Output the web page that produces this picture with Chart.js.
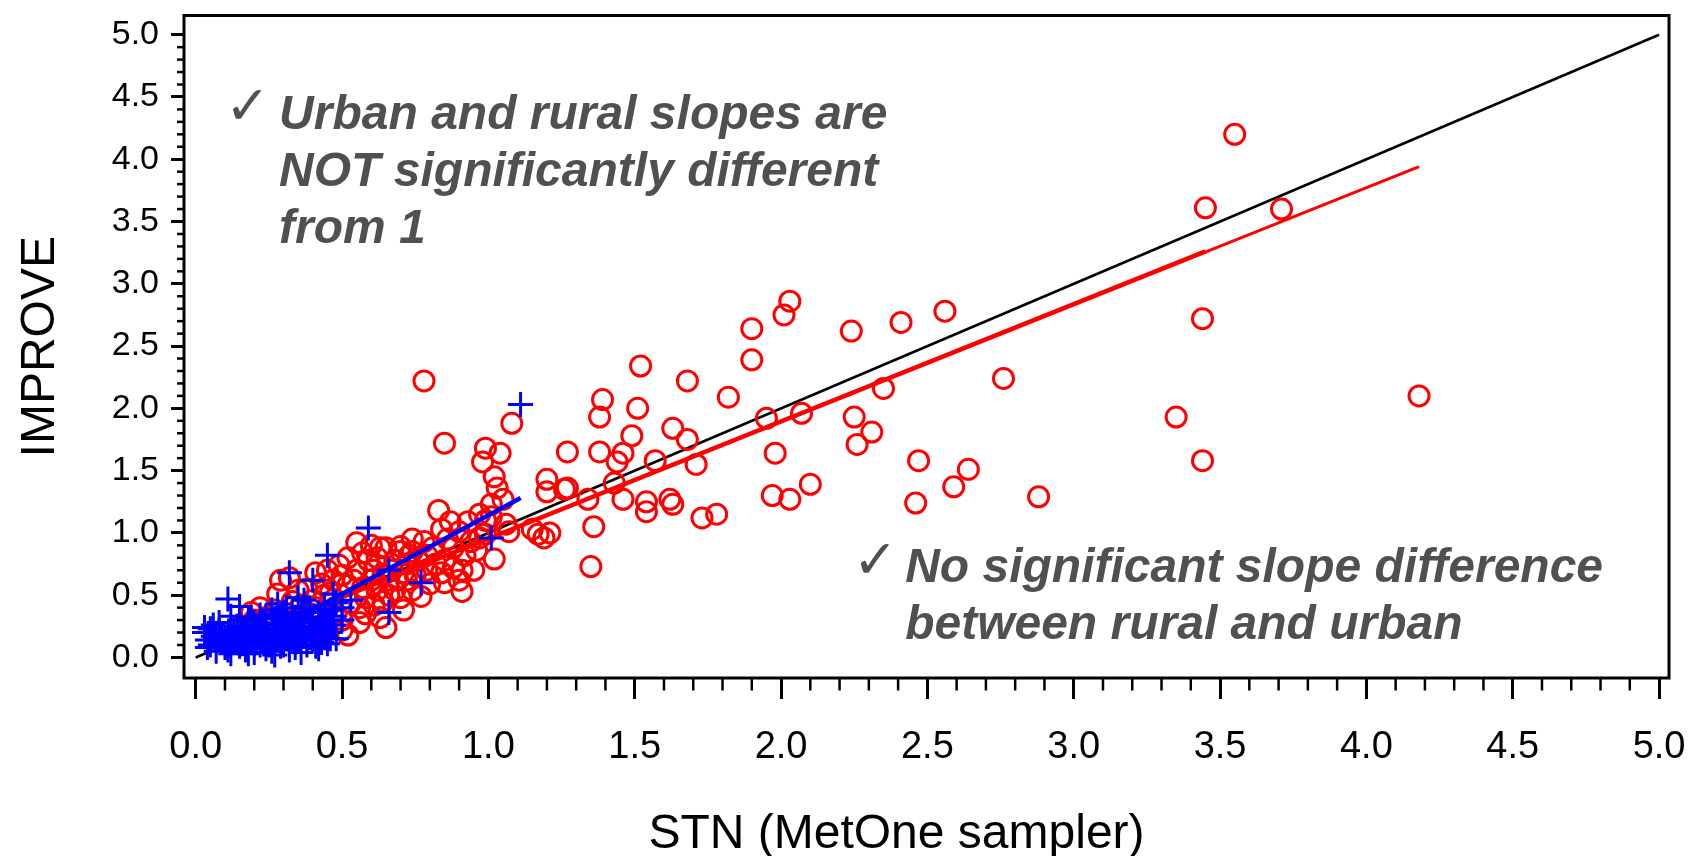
<!DOCTYPE html>
<html>
<head>
<meta charset="utf-8">
<title>IMPROVE vs STN</title>
<script src="https://cdn.jsdelivr.net/npm/chart.js@4.4.0/dist/chart.umd.min.js"></script>
<style>
  html, body { margin: 0; padding: 0; background: #ffffff; }
  #wrap { width: 1694px; height: 856px; }
</style>
</head>
<body>
<div id="wrap"><canvas id="chart" width="1694" height="856"></canvas></div>
<script>
// ---- data ----------------------------------------------------------------
const urbanSTN = [
  3.55, 3.45, 3.71, 3.44, 3.35, 3.44, 4.18, 2.76, 2.88, 2.56,
  2.41, 2.24, 2.03, 2.01, 1.90, 1.90, 1.68, 1.52, 1.39, 1.38,
  1.51, 1.82, 1.95, 2.07, 2.25, 2.35, 2.26, 2.31, 2.47, 2.64,
  2.59, 2.46, 1.98, 2.10, 1.97, 2.03, 1.49, 1.63, 1.68, 1.71,
  1.73, 1.78, 1.62, 1.63, 1.54, 1.54, 1.46, 1.43, 1.44, 1.46,
  1.57, 1.38, 1.27, 1.34, 1.26, 1.36, 1.35, 1.20, 1.20, 1.27,
  1.15, 1.19, 1.17, 1.21, 0.78, 0.85, 1.08, 0.99, 1.04, 0.98,
  1.02, 1.03, 1.05, 1.01, 0.83, 0.87, 1.01, 1.07, 1.02, 0.90,
  0.94, 0.88, 0.91, 0.91, 0.95, 0.78, 0.70, 0.65, 0.80, 0.77,
  0.71, 0.65, 0.97, 0.97, 0.93, 0.84, 0.74, 0.79, 0.90, 1.06,
  0.74, 0.70, 0.63, 0.57, 0.52, 0.55, 0.61, 0.72, 0.68, 0.62,
  0.58, 0.63, 0.74, 0.48, 0.50, 0.43, 0.35, 0.29, 0.28, 0.22,
  0.19, 0.40, 0.32, 0.45, 0.66, 0.58, 0.52, 0.39, 0.30, 0.25,
  0.42, 0.60, 0.68, 0.53, 0.46, 0.36, 0.72, 0.64, 0.56, 0.85,
  0.20, 0.24, 0.30, 0.36, 0.44, 0.50, 0.52,
  0.33, 0.38, 0.41, 0.47, 0.49, 0.54, 0.57, 0.59, 0.62, 0.64,
  0.67, 0.69, 0.71, 0.73, 0.76, 0.79, 0.82, 0.84, 0.86, 0.88,
  0.92, 0.96, 0.99, 0.99, 0.46, 0.41, 0.34, 0.27, 0.23, 0.56,
  0.61, 0.66, 0.70, 0.75, 0.81, 0.85, 0.60, 0.55, 0.50, 0.44
];
const urbanIMPROVE = [
  4.20, 3.61, 3.60, 2.72, 1.93, 1.58, 2.10, 2.24, 1.29, 2.78,
  2.69, 2.62, 2.86, 2.75, 2.64, 2.39, 2.22, 2.34, 2.07, 1.93,
  2.00, 2.09, 1.92, 1.96, 1.93, 2.16, 1.71, 1.81, 1.58, 1.51,
  1.37, 1.24, 1.64, 1.39, 1.30, 1.27, 1.78, 1.84, 1.75, 1.55,
  1.12, 1.15, 1.27, 1.23, 1.25, 1.17, 1.27, 1.40, 1.57, 1.64,
  1.58, 1.65, 1.65, 1.27, 1.35, 1.05, 0.73, 1.43, 1.33, 1.36,
  1.03, 0.96, 0.99, 1.00, 2.22, 1.72, 1.88, 1.68, 1.64, 1.57,
  1.45, 1.36, 1.27, 1.23, 1.18, 1.09, 1.13, 1.01, 0.79, 1.01,
  0.93, 0.88, 0.70, 0.53, 0.70, 0.93, 0.85, 0.88, 0.59, 0.49,
  0.38, 0.24, 0.96, 1.15, 1.09, 1.03, 0.85, 0.70, 0.62, 1.07,
  0.95, 0.89, 0.88, 0.84, 0.80, 0.70, 0.70, 0.75, 0.54, 0.54,
  0.35, 0.32, 0.54, 0.35, 0.22, 0.59, 0.54, 0.62, 0.51, 0.40,
  0.36, 0.46, 0.64, 0.70, 0.62, 0.48, 0.58, 0.35, 0.30, 0.25,
  0.25, 0.62, 0.78, 0.44, 0.43, 0.42, 0.62, 0.45, 0.28, 0.78,
  0.30, 0.32, 0.28, 0.30, 0.22, 0.30, 0.18,
  0.45, 0.55, 0.68, 0.62, 0.74, 0.62, 0.56, 0.78, 0.80, 0.66,
  0.70, 0.62, 0.68, 0.82, 0.78, 0.82, 0.75, 0.68, 0.95, 0.72,
  0.82, 0.86, 0.99, 1.10, 0.52, 0.40, 0.33, 0.38, 0.28, 0.40,
  0.42, 0.50, 0.48, 0.66, 0.88, 0.60, 0.90, 0.92, 0.66, 0.50
];

const ruralSTN = [
  1.11, 1.01, 0.59, 0.45, 0.32, 0.40, 0.11, 0.15, 0.28, 0.35,
  0.47, 0.53, 0.66, 0.66, 0.48, 0.03, 0.77, 0.50,
  0.03, 0.04, 0.05, 0.06, 0.07, 0.08, 0.09, 0.10, 0.11, 0.12,
  0.13, 0.14, 0.15, 0.16, 0.17, 0.18, 0.19, 0.20, 0.21, 0.22,
  0.23, 0.24, 0.25, 0.26, 0.27, 0.28, 0.29, 0.30, 0.31, 0.32,
  0.33, 0.34, 0.35, 0.36, 0.37, 0.38, 0.39, 0.40, 0.41, 0.42,
  0.43, 0.44, 0.45, 0.46, 0.47,
  0.05, 0.08, 0.12, 0.16, 0.19, 0.22, 0.25, 0.28, 0.31, 0.34,
  0.37, 0.40, 0.43, 0.20, 0.27, 0.14, 0.10, 0.33, 0.38, 0.42,
  0.46, 0.30, 0.24, 0.18,
  0.04, 0.06, 0.09, 0.11, 0.13, 0.15, 0.17, 0.18, 0.20, 0.21,
  0.23, 0.24, 0.26, 0.27, 0.29, 0.30, 0.32, 0.33, 0.35, 0.36,
  0.38, 0.39, 0.41, 0.42, 0.44, 0.45, 0.46, 0.47, 0.44, 0.40,
  0.36, 0.48, 0.50, 0.29, 0.15, 0.08, 0.12,
  0.22, 0.26, 0.34, 0.39, 0.43, 0.31, 0.19, 0.37
];
const ruralIMPROVE = [
  2.03, 0.96, 1.04, 0.82, 0.68, 0.62, 0.47, 0.41, 0.43, 0.48,
  0.51, 0.46, 0.70, 0.36, 0.15, 0.24, 0.60, 0.40,
  0.20, 0.14, 0.10, 0.17, 0.05, 0.22, 0.12, 0.08, 0.18, 0.03,
  0.14, 0.25, 0.09, 0.19, 0.06, 0.13, 0.22, 0.04, 0.16, 0.10,
  0.27, 0.07, 0.19, 0.13, 0.02, 0.23, 0.09, 0.16, 0.29, 0.06,
  0.20, 0.12, 0.25, 0.04, 0.17, 0.10, 0.30, 0.14, 0.22, 0.07,
  0.18, 0.27, 0.11, 0.20, 0.33,
  0.23, 0.15, 0.21, 0.11, 0.16, 0.20, 0.10, 0.14, 0.18, 0.08,
  0.24, 0.19, 0.12, 0.28, 0.31, 0.12, 0.15, 0.35, 0.40, 0.30,
  0.38, 0.36, 0.33, 0.30,
  0.08, 0.26, 0.19, 0.06, 0.22, 0.15, 0.24, 0.03, 0.11, 0.25,
  0.14, 0.22, 0.05, 0.17, 0.26, 0.10, 0.24, 0.14, 0.19, 0.28,
  0.15, 0.22, 0.09, 0.36, 0.20, 0.30, 0.15, 0.26, 0.42, 0.32,
  0.36, 0.44, 0.30, 0.35, 0.30, 0.28, 0.33,
  0.34, 0.38, 0.32, 0.40, 0.26, 0.40, 0.32, 0.46
];

// reference and regression lines (end points)
const oneToOneSTN = [0, 5];
const oneToOneIMPROVE = [0, 5];
const urbanFitSTN = [0.05, 4.18];
const urbanFitIMPROVE = [0.06, 3.94];
const urbanFitCoreSTN = [0.05, 3.45];
const urbanFitCoreIMPROVE = [0.06, 3.26];
const ruralFitSTN = [0.10, 1.11];
const ruralFitIMPROVE = [0.005, 1.28];

// axes
const axisTicks = [0, 0.5, 1.0, 1.5, 2.0, 2.5, 3.0, 3.5, 4.0, 4.5, 5.0];
const minorStep = 0.1;
const xTitle = 'STN (MetOne sampler)';
const yTitle = 'IMPROVE';

// notes placed in data space
const noteTopLines = ['Urban and rural slopes are', 'NOT significantly different', 'from 1'];
const noteTopAt = [0.285, 4.246];
const noteTopMarkAt = [0.10, 4.28];
const noteBottomLines = ['No significant slope difference', 'between rural and urban'];
const noteBottomAt = [2.424, 0.607];
const noteBottomMarkAt = [2.245, 0.635];

// ---- drawing -------------------------------------------------------------
const FONT = '"Liberation Sans", Arial, Helvetica, sans-serif';
const toPoints = (xs, ys) => xs.map((x, i) => ({ x, y: ys[i] }));

const noteBlocks = [
  { lines: noteTopLines, at: noteTopAt, mark: noteTopMarkAt },
  { lines: noteBottomLines, at: noteBottomAt, mark: noteBottomMarkAt }
];

// minor tick marks and the closed frame round the plot area
const frameAndMinorTicks = {
  id: 'frameAndMinorTicks',
  afterDraw(chart) {
    const { ctx, chartArea: a, scales: { x, y } } = chart;
    ctx.save();
    ctx.strokeStyle = '#000';
    ctx.lineWidth = 2.5;
    const n = Math.round(5 / minorStep);
    for (let i = 1; i < n; i++) {
      if (i % 5 === 0) continue;
      const v = i * minorStep;
      const px = x.getPixelForValue(v);
      ctx.beginPath(); ctx.moveTo(px, a.bottom); ctx.lineTo(px, a.bottom + 12.5); ctx.stroke();
      const py = y.getPixelForValue(v);
      ctx.beginPath(); ctx.moveTo(a.left - 7, py); ctx.lineTo(a.left, py); ctx.stroke();
    }
    ctx.lineWidth = 3;
    ctx.strokeRect(a.left, a.top, a.right - a.left, a.bottom - a.top);
    ctx.restore();
  }
};

// axis captions
const axisCaptions = {
  id: 'axisCaptions',
  afterDraw(chart) {
    const { ctx, chartArea: a } = chart;
    ctx.save();
    ctx.fillStyle = '#000';
    ctx.font = `48px ${FONT}`;
    ctx.textAlign = 'center';
    ctx.textBaseline = 'alphabetic';
    ctx.fillText(xTitle, (a.left + a.right) / 2 - 30, a.bottom + 170);
    ctx.translate(a.left - 130, (a.top + a.bottom) / 2);
    ctx.rotate(-Math.PI / 2);
    ctx.fillText(yTitle, 0, 0);
    ctx.restore();
  }
};

// check-marked notes
const checkNotes = {
  id: 'checkNotes',
  afterDraw(chart) {
    const { ctx, scales: { x, y } } = chart;
    ctx.save();
    ctx.fillStyle = '#505050';
    ctx.textAlign = 'left';
    ctx.textBaseline = 'alphabetic';
    for (const b of noteBlocks) {
      const left = x.getPixelForValue(b.at[0]);
      const base = y.getPixelForValue(b.at[1]);
      ctx.font = `italic bold 48px ${FONT}`;
      b.lines.forEach((t, i) => ctx.fillText(t, left, base + i * 57));
      ctx.font = `54px "DejaVu Sans"`;
      ctx.fillText('\u2713', x.getPixelForValue(b.mark[0]), y.getPixelForValue(b.mark[1]));
    }
    ctx.restore();
  }
};

new Chart(document.getElementById('chart'), {
  type: 'scatter',
  data: {
    datasets: [
      {
        label: '1:1',
        data: toPoints(oneToOneSTN, oneToOneIMPROVE),
        showLine: true, borderColor: '#000000', borderWidth: 2.6,
        pointRadius: 0, order: 5
      },
      {
        label: 'Urban',
        data: toPoints(urbanSTN, urbanIMPROVE),
        pointStyle: 'circle', pointRadius: 10,
        pointBorderColor: '#ff0000', pointBackgroundColor: 'rgba(0,0,0,0)',
        pointBorderWidth: 3, order: 4
      },
      {
        label: 'Urban fit',
        data: toPoints(urbanFitSTN, urbanFitIMPROVE),
        showLine: true, borderColor: '#ff0000', borderWidth: 3,
        pointRadius: 0, order: 3
      },
      {
        label: 'Urban fit core',
        data: toPoints(urbanFitCoreSTN, urbanFitCoreIMPROVE),
        showLine: true, borderColor: '#ff0000', borderWidth: 4.5,
        pointRadius: 0, order: 3
      },
      {
        label: 'Rural',
        data: toPoints(ruralSTN, ruralIMPROVE),
        pointStyle: 'cross', pointRadius: 12.5,
        pointBorderColor: '#0000ff', pointBorderWidth: 3, order: 2
      },
      {
        label: 'Rural fit',
        data: toPoints(ruralFitSTN, ruralFitIMPROVE),
        showLine: true, borderColor: '#0000ff', borderWidth: 4.5,
        pointRadius: 0, order: 1
      }
    ]
  },
  options: {
    responsive: false,
    animation: false,
    devicePixelRatio: 1,
    events: [],
    layout: { padding: { left: 0, right: 25, top: 10, bottom: 0 } },
    plugins: { legend: { display: false }, tooltip: { enabled: false } },
    scales: {
      x: {
        type: 'linear', min: -0.04, max: 5.034,
        afterBuildTicks: s => { s.ticks = axisTicks.map(v => ({ value: v })); },
        afterFit: s => { s.height = 178; s.paddingLeft = 0; s.paddingRight = 0; },
        grid: { drawOnChartArea: false, drawTicks: true, tickLength: 21, tickWidth: 3, tickColor: '#000' },
        border: { display: false },
        ticks: {
          color: '#000', font: { family: FONT, size: 38 }, padding: 26,
          maxRotation: 0, autoSkip: false, callback: v => Number(v).toFixed(1)
        },
        title: { display: false }
      },
      y: {
        type: 'linear', min: -0.165, max: 5.154,
        afterBuildTicks: s => { s.ticks = axisTicks.map(v => ({ value: v })); },
        afterFit: s => { s.width = 184; s.paddingTop = 0; s.paddingBottom = 0; },
        grid: { drawOnChartArea: false, drawTicks: true, tickLength: 13, tickWidth: 3, tickColor: '#000' },
        border: { display: false },
        ticks: {
          color: '#000', font: { family: FONT, size: 34 }, padding: 12,
          autoSkip: false, callback: v => Number(v).toFixed(1)
        },
        title: { display: false }
      }
    }
  },
  plugins: [frameAndMinorTicks, axisCaptions, checkNotes]
});
</script>
</body>
</html>
